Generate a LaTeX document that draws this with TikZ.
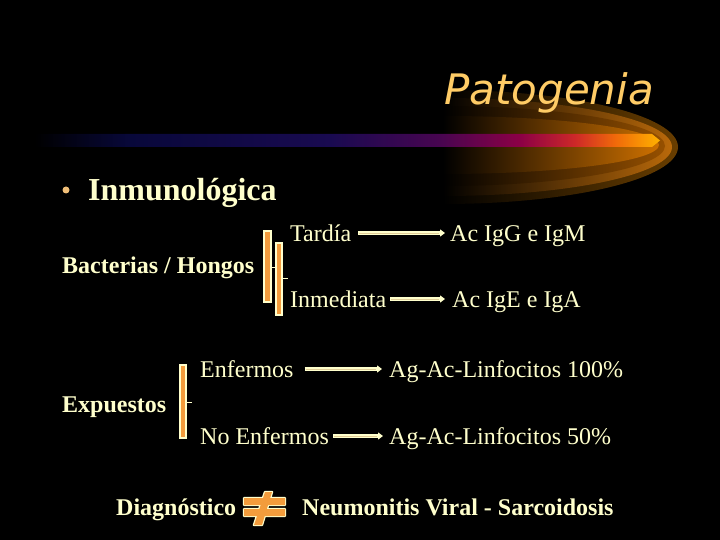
\documentclass[tikz,border=0pt]{standalone}
\usepackage{fontspec}
\setmainfont{Liberation Serif}
\newfontfamily\titlefont{DejaVu Sans}
\usetikzlibrary{arrows.meta,calc}
\definecolor{cream}{RGB}{255,255,204}
\definecolor{arrin}{RGB}{225,205,150}
\definecolor{brk}{RGB}{243,156,60}
\definecolor{ttl}{RGB}{255,204,102}
\definecolor{bul}{RGB}{240,190,120}
\definecolor{glA}{RGB}{105,62,0}
\definecolor{glB}{RGB}{185,105,10}
\definecolor{glC}{RGB}{150,80,0}
\definecolor{glD}{RGB}{205,112,0}
\definecolor{bcA}{RGB}{8,8,58}
\definecolor{bcB}{RGB}{25,10,80}
\definecolor{bcC}{RGB}{72,5,80}
\definecolor{bcD}{RGB}{140,0,70}
\definecolor{bcE}{RGB}{205,40,40}
\definecolor{bcF}{RGB}{240,105,10}
\definecolor{bcG}{RGB}{255,178,0}
\pgfdeclarehorizontalshading{barsh}{100bp}{color(0bp)=(black); color(25bp)=(black); color(32.6bp)=(bcA); color(48.6bp)=(bcB); color(57.4bp)=(bcC); color(63.8bp)=(bcD); color(68.2bp)=(bcE); color(71.4bp)=(bcF); color(75bp)=(bcG); color(100bp)=(bcG)}
\tikzset{
  txt/.style={text=cream, font=\fontsize{24}{28}\selectfont, inner sep=0pt, anchor=base west},
  btxt/.style={txt, font=\fontsize{24}{28}\selectfont\bfseries},
  arr/.style={draw=cream, line width=3.2pt, -{Triangle[length=5pt,width=7pt]}},
  arrcore/.style={draw=arrin, line width=0.9pt},
  brace/.style={draw=cream, line width=1.2pt, fill=brk},
  tick/.style={draw=cream, line width=1pt},
}
\begin{document}
\begin{tikzpicture}[x=1pt,y=-1pt]
\useasboundingbox (0,0) rectangle (720,540);
\fill[black] (0,0) rectangle (720,540);
% glow (nested half ellipses)
\shade[left color=black, right color=glA] (443,90) arc[start angle=-90, end angle=90, x radius=235, y radius=57] -- cycle;
\shade[left color=black, right color=glB] (443,98) arc[start angle=-90, end angle=90, x radius=229, y radius=49] -- cycle;
\shade[left color=black, right color=glC] (443,106) arc[start angle=-90, end angle=90, x radius=222, y radius=40] -- cycle;
\shade[left color=black, right color=glD] (443,116) arc[start angle=-90, end angle=90, x radius=216, y radius=29] -- cycle;
% bar
\shade[shading=barsh] (35,134) -- (652,134) -- (660,140.5) -- (652,147) -- (35,147) -- cycle;
% title
\node[inner sep=0pt, anchor=base west, text=ttl, font=\titlefont\itshape\fontsize{42}{48}\selectfont] (title) at (444,105) {Patogenia};
% bullet heading
\node[circle, fill=bul, inner sep=0pt, minimum size=7pt] (bullet) at (66,190) {};
\node[btxt, font=\fontsize{32}{36}\selectfont\bfseries] (inmu) at (88,201) {Inmunológica};
% group 1
\node[btxt] (bact) at (62,273) {Bacterias / Hongos};
\draw[brace] (264,231) rectangle (271,302);
\draw[tick] (271,267) -- (276,267);
\draw[brace] (276,243) rectangle (282,315);
\draw[tick] (282,278) -- (288,278);
\node[txt] (tardia) at (290,241) {Tardía};
\node[txt] (igg) at (450,241) {Ac IgG e IgM};
\node[txt] (inmed) at (290,307) {Inmediata};
\node[txt] (ige) at (452,307) {Ac IgE e IgA};
\draw[arr] ($(tardia.base east)+(7,-8)$) -- ($(igg.base west)+(-5,-8)$);
\draw[arrcore] ($(tardia.base east)+(8,-8)$) -- ($(igg.base west)+(-11,-8)$);
\draw[arr] ($(inmed.base east)+(4,-8)$) -- ($(ige.base west)+(-7,-8)$);
\draw[arrcore] ($(inmed.base east)+(5,-8)$) -- ($(ige.base west)+(-13,-8)$);
% group 2
\node[btxt] (exp) at (62,412) {Expuestos};
\draw[brace] (180,365) rectangle (186,438);
\draw[tick] (186,402) -- (192,402);
\node[txt] (enf) at (200,377) {Enfermos};
\node[txt] (lin100) at (389,377) {Ag-Ac-Linfocitos 100\%};
\node[txt] (noenf) at (200,444) {No Enfermos};
\node[txt] (lin50) at (389,444) {Ag-Ac-Linfocitos 50\%};
\draw[arr] ($(enf.base east)+(11,-8)$) -- ($(lin100.base west)+(-7,-8)$);
\draw[arrcore] ($(enf.base east)+(12,-8)$) -- ($(lin100.base west)+(-13,-8)$);
\draw[arr] ($(noenf.base east)+(4,-8)$) -- ($(lin50.base west)+(-6,-8)$);
\draw[arrcore] ($(noenf.base east)+(5,-8)$) -- ($(lin50.base west)+(-12,-8)$);
% diagnosis
\node[btxt] (diag) at (116,515) {Diagnóstico};
\node[btxt] (neum) at (302,515) {Neumonitis Viral - Sarcoidosis};
\begin{scope}
\draw[cream, line width=2.4pt, line join=round] (244,498) rectangle (285,505) (244,509) rectangle (285,516) (265,492) -- (272,492) -- (262,525) -- (254,525) -- cycle;
\fill[brk] (244,498) rectangle (285,505) (244,509) rectangle (285,516);
\fill[brk] (265,492) -- (272,492) -- (262,525) -- (254,525) -- cycle;
\end{scope}
\end{tikzpicture}
\end{document}
